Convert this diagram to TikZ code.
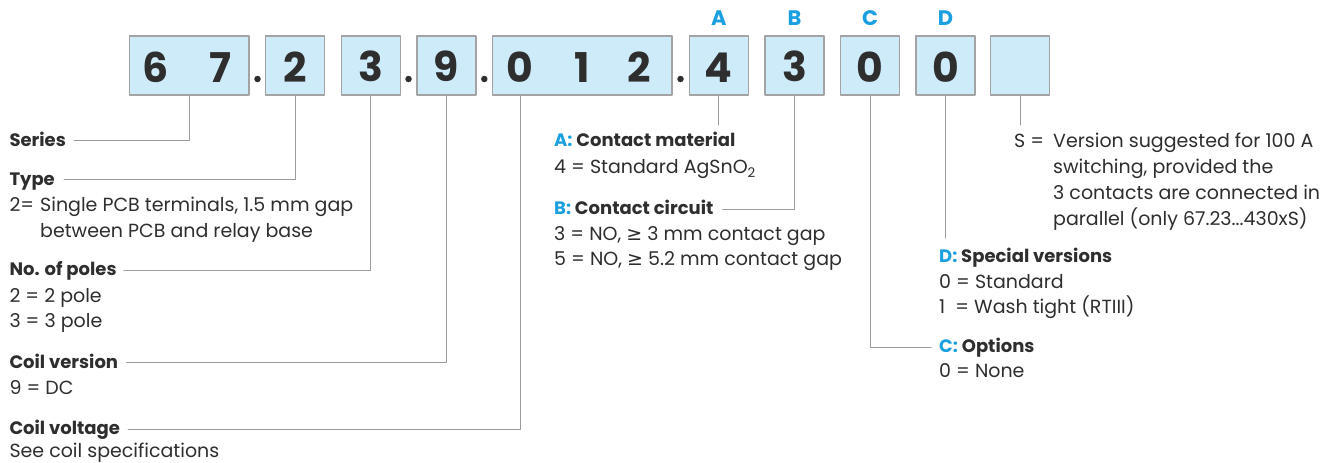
\documentclass[tikz,border=0pt]{standalone}
\usepackage{fontspec}
\setmainfont{Poppins}
\newfontfamily\symfont{DejaVu Sans}
\usetikzlibrary{positioning}
\definecolor{boxfill}{HTML}{CDEBF8}
\definecolor{boxline}{HTML}{A3A3A3}
\definecolor{leadline}{HTML}{9C9C9C}
\definecolor{codeblue}{HTML}{1A9FE0}
\definecolor{textgray}{HTML}{2E2E2E}
\tikzset{
  digitbox/.style={draw=boxline,line width=1.2pt,fill=boxfill,minimum width=59pt,minimum height=59pt,
    inner sep=0pt,text=textgray,text height=33pt,font=\fontsize{41}{41}\selectfont\bfseries},
  digit/.style={text=textgray,inner sep=0pt,font=\fontsize{41}{41}\selectfont\bfseries},
  codedot/.style={circle,fill=textgray,inner sep=0pt,minimum size=6.5pt},
  letter/.style={text=codeblue,inner sep=0pt,font=\fontsize{21}{21}\selectfont\bfseries},
  heading/.style={anchor=base west,inner sep=0pt,text=textgray,text height=14pt,text depth=3pt,
    font=\fontsize{18}{18}\selectfont\bfseries},
  body/.style={anchor=base west,inner sep=0pt,text=textgray,font=\fontsize{19}{19}\selectfont},
  lead/.style={draw=leadline,line width=1pt}
}
\begin{document}
\begin{tikzpicture}[line cap=round,line join=round,x=1pt,y=-1pt]
\useasboundingbox (0,0) rectangle (1341,463);
\node[digitbox,minimum width=119.7pt] (b67) at (189.2,65.5) {};
\node[digit] (d6) at (156,67.5) {6};
\node[digit] (d7) at (220,67.5) {7};
\node[digitbox] (b2) at (295.2,65.5) {2};
\node[digitbox] (b3) at (370.8,65.5) {3};
\node[digitbox] (b9) at (446.5,65.5) {9};
\node[digitbox,minimum width=179.3pt] (b012) at (582.3,65.5) {};
\node[digit] (d0) at (520,67.5) {0};
\node[digit] (d1) at (582.4,67.5) {1};
\node[digit] (d2) at (639,67.5) {2};
\node[digitbox] (b4) at (718.8,65.5) {4};
\node[digitbox] (b3b) at (794.5,65.5) {3};
\node[digitbox] (b0c) at (870.2,65.5) {0};
\node[digitbox] (b0d) at (945.5,65.5) {0};
\node[digitbox] (bS) at (1020.2,65.5) {};
\node[codedot] (p1) at (257.5,79) {};
\node[codedot] (p2) at (408.5,79) {};
\node[codedot] (p3) at (484.3,79) {};
\node[codedot] (p4) at (680.5,79) {};
\node[letter] (lA) at (718.8,18) {A};
\node[letter] (lB) at (794.5,18) {B};
\node[letter] (lC) at (870.2,18) {C};
\node[letter] (lD) at (945.5,18) {D};
\node[heading] (hseries) at (9.3,146) {Series};
\node[heading] (htype) at (9.3,185) {Type};
\node[body] (ty1) at (9.3,211) {2=};
\node[body] (ty2) at (40,211) {Single PCB terminals, 1.5 mm gap};
\node[body] (ty3) at (40,237.3) {between PCB and relay base};
\node[heading] (hpoles) at (9.3,275.7) {No. of poles};
\node[body] (po1) at (9.3,302) {2 = 2 pole};
\node[body] (po2) at (9.3,327.5) {3 = 3 pole};
\node[heading] (hcoil) at (9.3,368) {Coil version};
\node[body] (co1) at (9.3,394.8) {9 = DC};
\node[heading] (hvolt) at (9.3,434.5) {Coil voltage};
\node[body] (vo1) at (9.3,457.5) {See coil specifications};
\node[heading] (hA) at (554,146.7) {\textcolor{codeblue}{A:} Contact material};
\node[body] (ma1) at (554,173.3) {4 = Standard AgSnO\textsubscript{2}};
\node[heading] (hB) at (554,214.5) {\textcolor{codeblue}{B:} Contact circuit};
\node[body] (ci1) at (554,240) {3 = NO, {\symfont ≥} 3 mm contact gap};
\node[body] (ci2) at (554,265) {5 = NO, {\symfont ≥} 5.2 mm contact gap};
\node[body] (sv0) at (1014,147) {S =};
\node[body] (sv1) at (1053,147) {Version suggested for 100 A};
\node[body] (sv2) at (1053,173) {switching, provided the};
\node[body] (sv3) at (1053,199) {3 contacts are connected in};
\node[body] (sv4) at (1053,225) {parallel (only 67.23...430xS)};
\node[heading] (hD) at (939,262.5) {\textcolor{codeblue}{D:} Special versions};
\node[body] (sp1) at (939,288.3) {0 = Standard};
\node[body] (sp2) at (939,313.3) {1 \ = Wash tight (RTIII)};
\node[heading] (hC) at (939,352.5) {\textcolor{codeblue}{C:} Options};
\node[body] (op1) at (939,377) {0 = None};
\coordinate (endA) at (718.8,125);
\coordinate (endD) at (945.5,238);
\coordinate (endS) at (1020.2,125);
\draw[lead] ([xshift=8pt]hseries.east) -| (b67.south);
\draw[lead] ([xshift=9pt]htype.east) -| (b2.south);
\draw[lead] ([xshift=7pt]hpoles.east) -| (b3.south);
\draw[lead] ([xshift=8pt]hcoil.east) -| (b9.south);
\draw[lead] ([xshift=8pt]hvolt.east) -| (d0 |- b012.south);
\draw[lead] (b4.south) -- (endA);
\draw[lead] ([xshift=9pt]hB.east) -| (b3b.south);
\draw[lead] (b0c.south) |- ([xshift=-8pt]hC.west);
\draw[lead] (b0d.south) -- (endD);
\draw[lead] (bS.south) -- (endS);
\end{tikzpicture}
\end{document}
